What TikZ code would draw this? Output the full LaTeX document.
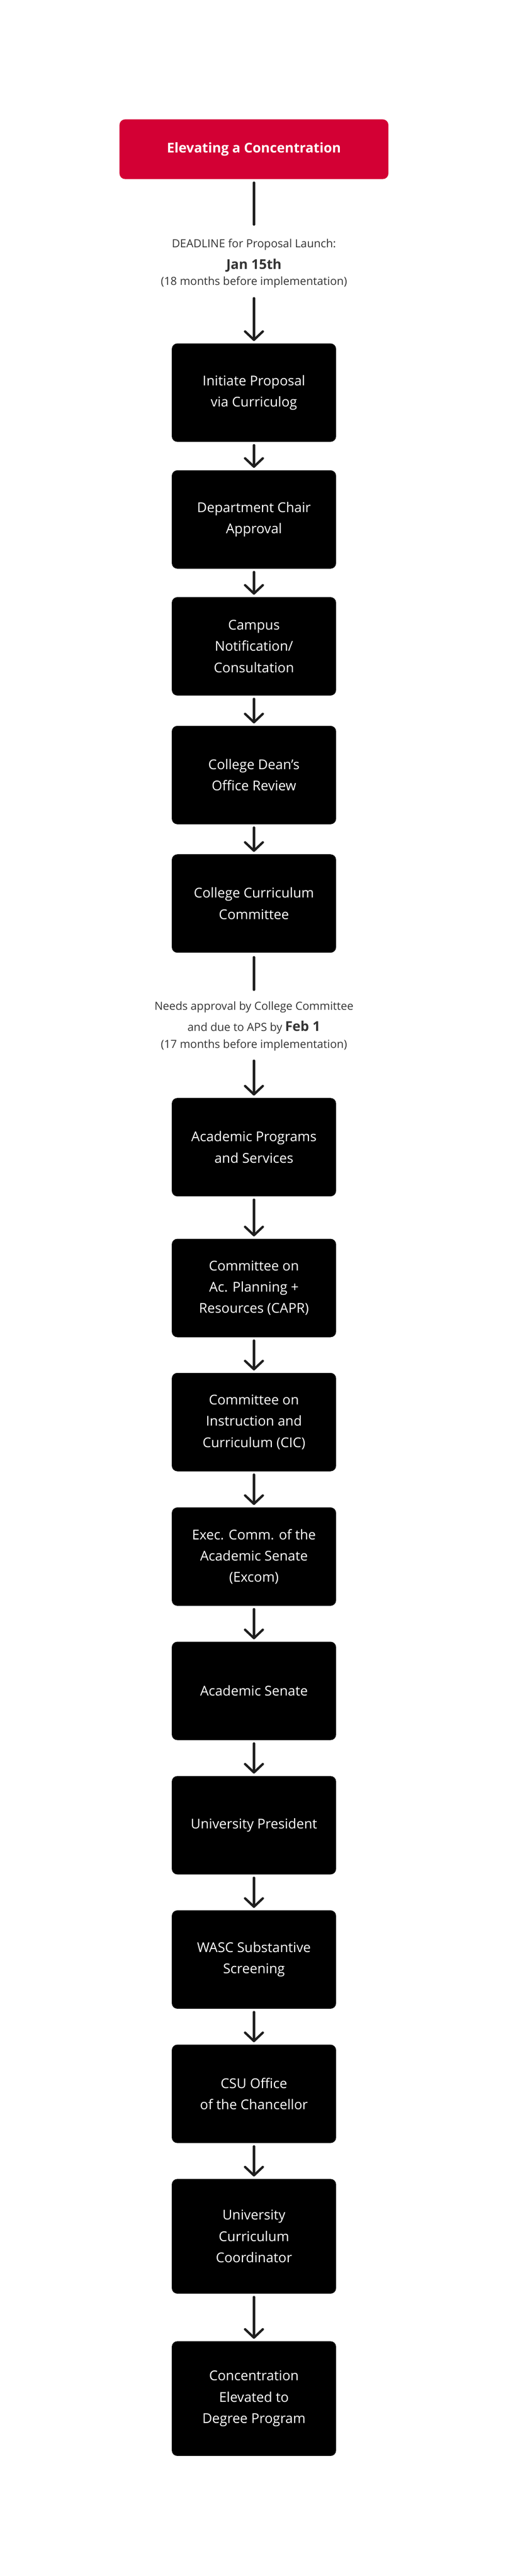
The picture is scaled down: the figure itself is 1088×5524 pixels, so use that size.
\documentclass[tikz,border=0pt]{standalone}
\usepackage{fontspec}
\setmainfont{Open Sans}
\usetikzlibrary{arrows.meta}
\definecolor{hdrred}{RGB}{211,0,52}
\definecolor{ink}{HTML}{1E1E1E}
\definecolor{note}{HTML}{333333}
\begin{document}
\begin{tikzpicture}[x=1pt,y=-1pt,
  stepbox/.style={fill=black, rounded corners=12pt, minimum width=352pt, minimum height=211pt, inner sep=0pt, text=white, align=center, font=\fontsize{29}{45.7}\selectfont},
  tallbox/.style={stepbox, minimum height=246pt},
  hdrbox/.style={fill=hdrred, rounded corners=12pt, minimum width=576pt, minimum height=128pt, inner sep=0pt, text=white, font=\bfseries\fontsize{29}{35}\selectfont},
  notetext/.style={text=note, inner sep=0pt, anchor=base, font=\fontsize{24}{30}\selectfont},
  notebold/.style={notetext, font=\bfseries\fontsize{29}{35}\selectfont},
  conn/.style={draw=ink, line width=5pt, line cap=round},
  arr/.style={conn, -{Straight Barb[length=18pt,width=38pt,round]}, shorten <=7pt, shorten >=5pt}
]
\useasboundingbox (0,0) rectangle (1088,5524);
\fill[white] (0,0) rectangle (1088,5524);

\node[hdrbox] (hdr) at (544,320) {Elevating a Concentration};

\coordinate (d1top) at (544,481.5);
\node[notetext] (n1a) at (544,531) {DEADLINE for Proposal Launch:};
\node[notebold] (n1b) at (544,576.7) {Jan 15th};
\node[notetext] (n1c) at (544,612) {(18 months before implementation)};
\coordinate (d1bot) at (544,639.5);

\node[stepbox] (b1) at (544,842) {Initiate Proposal\\via Curriculog};
\node[stepbox] (b2) at (544,1114) {Department Chair\\Approval};
\node[stepbox] (b3) at (544,1386) {Campus\\Notification/\\Consultation};
\node[stepbox] (b4) at (544,1662) {College Dean's\\Office Review};
\node[stepbox] (b5) at (544,1937.5) {College Curriculum\\Committee};

\coordinate (d2top) at (544,2122.5);
\node[notetext] (n2a) at (544,2166) {Needs approval by College Committee};
\node[notetext] (n2b) at (544,2211.7) {and due to APS by {\bfseries\fontsize{29}{35}\selectfont Feb 1}};
\node[notetext] (n2c) at (544,2247.7) {(17 months before implementation)};
\coordinate (d2bot) at (544,2274.5);

\node[stepbox] (b6) at (544,2460) {Academic Programs\\and Services};
\node[stepbox] (b7) at (544,2762) {Committee on\\Ac. Planning +\\Resources (CAPR)};
\node[stepbox] (b8) at (544,3049.5) {Committee on\\Instruction and\\Curriculum (CIC)};
\node[stepbox] (b9) at (544,3338) {Exec. Comm. of the\\Academic Senate\\(Excom)};
\node[stepbox] (b10) at (544,3626) {Academic Senate};
\node[stepbox] (b11) at (544,3914) {University President};
\node[stepbox] (b12) at (544,4202) {WASC Substantive\\Screening};
\node[stepbox] (b13) at (544,4490) {CSU Office\\of the Chancellor};
\node[tallbox] (b14) at (544,4795.5) {University\\Curriculum\\Coordinator};
\node[tallbox] (b15) at (544,5143.5) {Concentration\\Elevated to\\Degree Program};

\draw[conn, shorten <=7.5pt] (hdr.south) -- (d1top);
\draw[arr, shorten <=0pt] (d1bot) -- (b1.north);
\draw[arr] (b1.south) -- (b2.north);
\draw[arr] (b2.south) -- (b3.north);
\draw[arr] (b3.south) -- (b4.north);
\draw[arr] (b4.south) -- (b5.north);
\draw[conn, shorten <=9.5pt] (b5.south) -- (d2top);
\draw[arr, shorten <=0pt] (d2bot) -- (b6.north);
\draw[arr] (b6.south) -- (b7.north);
\draw[arr] (b7.south) -- (b8.north);
\draw[arr] (b8.south) -- (b9.north);
\draw[arr] (b9.south) -- (b10.north);
\draw[arr] (b10.south) -- (b11.north);
\draw[arr] (b11.south) -- (b12.north);
\draw[arr] (b12.south) -- (b13.north);
\draw[arr] (b13.south) -- (b14.north);
\draw[arr] (b14.south) -- (b15.north);
\end{tikzpicture}
\end{document}
